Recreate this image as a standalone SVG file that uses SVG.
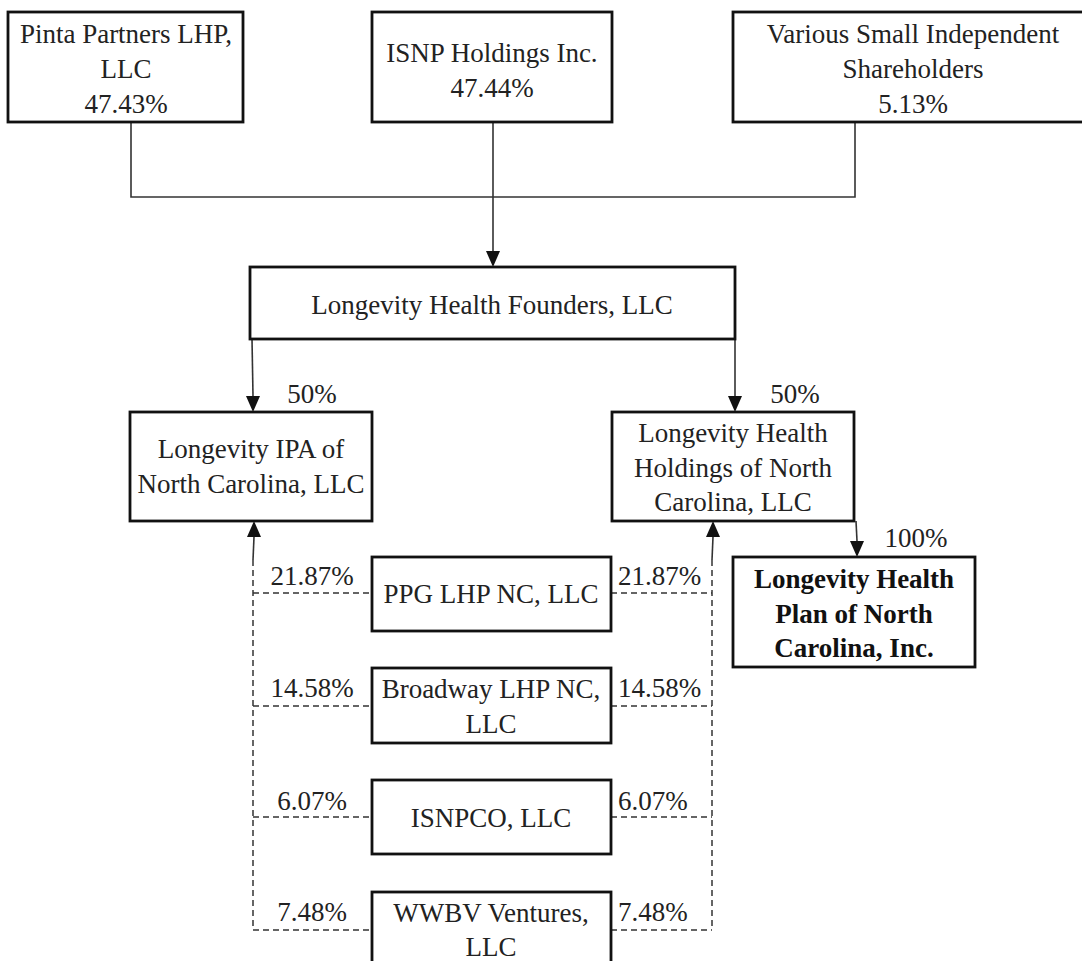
<svg xmlns="http://www.w3.org/2000/svg" width="1082" height="961" viewBox="0 0 1082 961">
<style>
.box{fill:#fff;stroke:#111;stroke-width:2.8}
.t{font-family:"Liberation Serif","Times New Roman",serif;font-size:27px;fill:#222;text-anchor:middle}
.b{font-weight:bold;fill:#111}
.s{text-anchor:start}
.ln{fill:none;stroke:#333;stroke-width:1.6}
.dl{fill:none;stroke:#333;stroke-width:1.5;stroke-dasharray:6,4}
</style>
<defs>
<marker id="ah" markerUnits="userSpaceOnUse" markerWidth="14" markerHeight="16" refX="7" refY="16" orient="auto" viewBox="0 0 14 16">
<path d="M0,0 L14,0 L7,16 Z" fill="#111" transform="rotate(0)"/>
</marker>
</defs>
<rect width="1082" height="961" fill="#fff"/>
<g id="connectors">
<path class="ln" d="M131,122 V197 H855 V122"/>
<path class="ln" d="M493,122 V197"/>
<line x1="493" y1="197" x2="493" y2="251" class="ln"/>
<polygon points="486,251 500,251 493,267" fill="#111"/>
<line x1="252" y1="339" x2="253" y2="396" class="ln"/>
<polygon points="246,396 260,396 253,412" fill="#111"/>
<line x1="735" y1="339" x2="735" y2="396" class="ln"/>
<polygon points="728,396 742,396 735,412" fill="#111"/>
<line x1="856" y1="521" x2="857" y2="541" class="ln"/>
<polygon points="850,541 864,541 857,557" fill="#111"/>
<polygon points="247,537 261,537 254,521" fill="#111"/>
<polygon points="706,537 720,537 713,521" fill="#111"/>
<line x1="254" y1="537" x2="253" y2="560" class="ln"/>
<line x1="713" y1="537" x2="712" y2="560" class="ln"/>
<path class="dl" d="M253,560 V930"/>
<path class="dl" d="M712,560 V930"/>
<path class="dl" d="M253,593 H372 M611,593 H712"/>
<path class="dl" d="M253,706 H372 M611,706 H712"/>
<path class="dl" d="M253,817 H372 M611,817 H712"/>
<path class="dl" d="M253,930 H372 M611,930 H712"/>
<text class="t" x="312" y="403">50%</text>
<text class="t" x="795" y="403">50%</text>
<text class="t" x="916" y="547">100%</text>
<text class="t" x="312" y="585">21.87%</text>
<text class="t s" x="618" y="585">21.87%</text>
<text class="t" x="312" y="697">14.58%</text>
<text class="t s" x="618" y="697">14.58%</text>
<text class="t" x="312" y="810">6.07%</text>
<text class="t s" x="618" y="810">6.07%</text>
<text class="t" x="312" y="921">7.48%</text>
<text class="t s" x="618" y="921">7.48%</text>
</g>
<g id="pinta">
<rect class="box" x="8" y="12" width="235" height="110"/>
<text class="t" x="126" y="43">Pinta Partners LHP,</text>
<text class="t" x="126" y="78">LLC</text>
<text class="t" x="126" y="113">47.43%</text>
</g>
<g id="isnp">
<rect class="box" x="372" y="12" width="240" height="110"/>
<text class="t" x="492" y="62">ISNP Holdings Inc.</text>
<text class="t" x="492" y="97">47.44%</text>
</g>
<g id="various">
<rect class="box" x="733" y="12" width="360" height="110"/>
<text class="t" x="913" y="43">Various Small Independent</text>
<text class="t" x="913" y="78">Shareholders</text>
<text class="t" x="913" y="113">5.13%</text>
</g>
<g id="founders">
<rect class="box" x="250" y="267" width="485" height="72"/>
<text class="t" x="492" y="314">Longevity Health Founders, LLC</text>
</g>
<g id="ipa">
<rect class="box" x="130" y="412" width="242" height="109"/>
<text class="t" x="251" y="458">Longevity IPA of</text>
<text class="t" x="251" y="493">North Carolina, LLC</text>
</g>
<g id="holdings">
<rect class="box" x="612" y="412" width="242" height="109"/>
<text class="t" x="733" y="442">Longevity Health</text>
<text class="t" x="733" y="477">Holdings of North</text>
<text class="t" x="733" y="511">Carolina, LLC</text>
</g>
<g id="plan">
<rect class="box" x="733" y="557" width="242" height="110"/>
<text class="t b" x="854" y="588">Longevity Health</text>
<text class="t b" x="854" y="623">Plan of North</text>
<text class="t b" x="854" y="657">Carolina, Inc.</text>
</g>
<g id="ppg">
<rect class="box" x="372" y="557" width="239" height="74"/>
<text class="t" x="491" y="603">PPG LHP NC, LLC</text>
</g>
<g id="broadway">
<rect class="box" x="372" y="668" width="239" height="75"/>
<text class="t" x="491" y="698">Broadway LHP NC,</text>
<text class="t" x="491" y="733">LLC</text>
</g>
<g id="isnpco">
<rect class="box" x="372" y="780" width="239" height="74"/>
<text class="t" x="491" y="827">ISNPCO, LLC</text>
</g>
<g id="wwbv">
<rect class="box" x="372" y="892" width="239" height="85"/>
<text class="t" x="491" y="922">WWBV Ventures,</text>
<text class="t" x="491" y="956">LLC</text>
</g>
</svg>
